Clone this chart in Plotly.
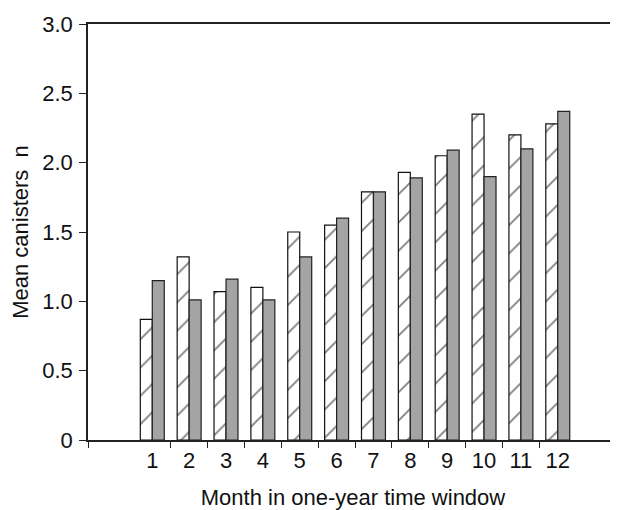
import plotly.graph_objects as go

months = list(range(1, 13))
month_labels = [str(m) for m in months]
series_hatched = [0.87, 1.32, 1.07, 1.10, 1.50, 1.55, 1.79, 1.93, 2.05, 2.35, 2.20, 2.28]
series_gray = [1.15, 1.01, 1.16, 1.01, 1.32, 1.60, 1.79, 1.89, 2.09, 1.90, 2.10, 2.37]
y_ticks = [0, 0.5, 1.0, 1.5, 2.0, 2.5, 3.0]
y_tick_labels = ["0", "0.5", "1.0", "1.5", "2.0", "2.5", "3.0"]
between_ticks = [m + 0.5 for m in months[:-1]]

FONT = "Liberation Sans, Arial, sans-serif"
AX = "#222222"
FS = 22
xr = [-0.744, 13.634]

fig = go.Figure()
fig.add_trace(go.Bar(
    x=months, y=series_hatched, name="A",
    marker=dict(color="white", line=dict(color="#111111", width=1.2),
                pattern=dict(shape="/", fgcolor="#000000", bgcolor="white",
                             size=20, solidity=0.09)),
))
fig.add_trace(go.Bar(
    x=months, y=series_gray, name="B",
    marker=dict(color="#a4a4a4", line=dict(color="#222222", width=1.2)),
))
# invisible trace on overlay axis for the between-category ticks
fig.add_trace(go.Scatter(x=[xr[0]], y=[0], xaxis="x2", mode="markers",
                         marker=dict(opacity=0), showlegend=False, hoverinfo="skip"))

fig.update_layout(
    width=610, height=502,
    margin=dict(l=80, r=0, t=16, b=68),
    paper_bgcolor="white", plot_bgcolor="white",
    barmode="group", bargap=0.35, bargroupgap=0,
    showlegend=False,
    font=dict(family=FONT, size=FS, color="#111111"),
    xaxis=dict(
        range=xr, tickvals=months, ticktext=month_labels, ticks="",
        showgrid=False, zeroline=False, showline=True, linecolor=AX, linewidth=1.6,
        mirror=True, tickfont=dict(size=FS), ticklabelstandoff=0,
        title=dict(text="Month in one-year time window", font=dict(size=FS), standoff=21),
    ),
    xaxis2=dict(
        range=xr, overlaying="x", side="bottom", anchor="y",
        tickvals=[xr[0]] + between_ticks, ticks="outside", ticklen=7,
        tickcolor=AX, tickwidth=1.4, showticklabels=False,
        showgrid=False, zeroline=False, showline=False,
    ),
    yaxis=dict(
        range=[0, 3.0], tickvals=y_ticks, ticktext=y_tick_labels,
        ticks="outside", ticklen=7, tickcolor=AX, tickwidth=1.4,
        showgrid=False, zeroline=False, showline=True, linecolor=AX, linewidth=1.6,
        tickfont=dict(size=FS), ticklabelstandoff=2,
        title=dict(text="Mean canisters\u00a0\u00a0n", font=dict(size=FS), standoff=12),
    ),
)

fig.write_html("out.html")
